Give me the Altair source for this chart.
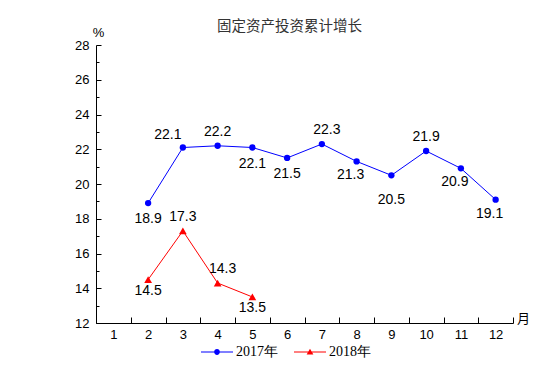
import altair as alt
import pandas as pd

# ---- data ----
series_names = ["2017年", "2018年"]
series_colors = ["#0000FF", "#FF0000"]

months_2017 = [2, 3, 4, 5, 6, 7, 8, 9, 10, 11, 12]
values_2017 = [18.9, 22.1, 22.2, 22.1, 21.5, 22.3, 21.3, 20.5, 21.9, 20.9, 19.1]
place_2017 = ["b", "al", "a", "b", "b", "ar", "bl", "bb", "a", "bl", "bl"]

months_2018 = [2, 3, 4, 5]
values_2018 = [14.5, 17.3, 14.3, 13.5]
place_2018 = ["bs", "a", "ar", "bs"]

x_tick_labels = [1, 2, 3, 4, 5, 6, 7, 8, 9, 10, 11, 12]
x_bounds = [0.5, 1.5, 2.5, 3.5, 4.5, 5.5, 6.5, 7.5, 8.5, 9.5, 10.5, 11.5, 12.5]
y_major = [12, 14, 16, 18, 20, 22, 24, 26, 28]
y_minor = [13, 15, 17, 19, 21, 23, 25, 27]

rows = []
for m, v, p in zip(months_2017, values_2017, place_2017):
    rows.append({"series": series_names[0], "month": m, "value": v, "place": p})
for m, v, p in zip(months_2018, values_2018, place_2018):
    rows.append({"series": series_names[1], "month": m, "value": v, "place": p})
df = pd.DataFrame(rows)

# ---- styles ----
SANS = "Liberation Sans"
SERIF = "Liberation Serif"
CJK = "Noto Sans CJK SC"

label_offsets = {
    "a": (0, -14),
    "al": (-15, -13),
    "ar": (5, -14),
    "b": (0, 16),
    "bl": (-6, 14),
    "bb": (0, 25),
    "bs": (0, 11),
}

legend_paths = [
    "M-2,-0.06H2V0.06H-2Z M0.36,0A0.36,0.36,0,1,1,-0.36,0A0.36,0.36,0,1,1,0.36,0Z",
    "M-2,-0.06H2V0.06H-2Z M0,-0.4L0.42,0.3L-0.42,0.3Z",
]

xscale = alt.Scale(domain=[0.5, 12.5], nice=False, zero=False)
yscale = alt.Scale(domain=[12, 28], nice=False, zero=False)


def X(axis):
    return alt.X("month:Q", scale=xscale, axis=axis)


def Y(axis):
    return alt.Y("value:Q", scale=yscale, axis=axis)


color_enc = alt.Color("series:N", scale=alt.Scale(domain=series_names, range=series_colors), legend=None)

x_axis_a = alt.Axis(
    orient="bottom", values=x_bounds, labels=False, grid=False,
    tickSize=alt.ExprRef(expr="-6"), tickColor="black", tickWidth=1,
    domainColor="black", domainWidth=1,
    title="月", titleFont=CJK, titleFontSize=13, titleFontWeight="normal", titleColor="black",
    titleX=427, titleY=-5, titleAlign="center", titleBaseline="middle", titleAngle=0,
)
y_axis_a = alt.Axis(
    orient="left", values=y_major, grid=False,
    tickSize=alt.ExprRef(expr="-5"), tickColor="black", tickWidth=1,
    domainColor="black", domainWidth=1,
    labelFont=SANS, labelFontSize=13, labelColor="black", labelPadding=12,
    title="%", titleFont=SANS, titleFontSize=13, titleFontWeight="normal", titleColor="black",
    titleX=2, titleY=-13, titleAlign="center", titleBaseline="middle", titleAngle=0,
)
x_axis_b = alt.Axis(
    orient="bottom", values=x_tick_labels, ticks=False, domain=False, grid=False,
    labelFont=SANS, labelFontSize=13, labelColor="black", labelPadding=5,
    labelBaseline="top", title=None,
)
y_axis_b = alt.Axis(
    orient="left", values=y_minor, labels=False, domain=False, grid=False,
    tickSize=alt.ExprRef(expr="-3"), tickColor="black", tickWidth=1, title=None,
)

lines = alt.Chart(df).mark_line(strokeWidth=1).encode(
    x=X(x_axis_a), y=Y(y_axis_a), color=color_enc, detail="series:N"
)

points = alt.Chart(df).mark_point(filled=True, opacity=1).encode(
    x=X(x_axis_b), y=Y(y_axis_b), color=color_enc,
    shape=alt.Shape("series:N", scale=alt.Scale(domain=series_names, range=["circle", "triangle-up"]), legend=None),
    size=alt.Size("series:N", scale=alt.Scale(domain=series_names, range=[40, 60]), legend=None),
)

leg = alt.Legend(
    title=None, orient="none", legendX=113, legendY=299, direction="horizontal",
    symbolSize=256, labelFont=SERIF, labelFontSize=14, labelColor="black",
    labelOffset=11, columnPadding=16, padding=0, symbolStrokeWidth=0, symbolOpacity=1,
)
carrier = alt.Chart(df).transform_filter("false").mark_point(filled=True, opacity=1).encode(
    x=X(None), y=Y(None),
    fill=alt.Fill("series:N", scale=alt.Scale(domain=series_names, range=series_colors), legend=leg),
    shape=alt.Shape("series:N", scale=alt.Scale(domain=series_names, range=legend_paths), legend=leg),
)

text_layers = []
for key, (dx, dy) in label_offsets.items():
    text_layers.append(
        alt.Chart(df).transform_filter(alt.datum.place == key).mark_text(
            dx=dx, dy=dy, font=SANS, fontSize=14, color="black", baseline="middle", align="center"
        ).encode(x=X(None), y=Y(None), text=alt.Text("value:Q", format=".1f"))
    )

chart = alt.layer(lines, points, carrier, *text_layers).resolve_scale(
    x="independent", y="independent", color="independent", shape="independent",
    size="independent", fill="independent",
).resolve_axis(x="independent", y="independent").properties(
    width=417, height=278,
    autosize=alt.AutoSizeParams(type="none"),
    padding={"left": 88, "top": 37, "right": 34, "bottom": 60},
    title=alt.TitleParams(
        "固定资产投资累计增长", font=CJK, fontSize=14.5, fontWeight="normal", color="#333333",
        anchor="middle", frame="group", dx=-15, offset=-8,
    ),
).configure_view(stroke=None)

chart.save("out.html", embed_options={"renderer": "svg", "actions": False})
